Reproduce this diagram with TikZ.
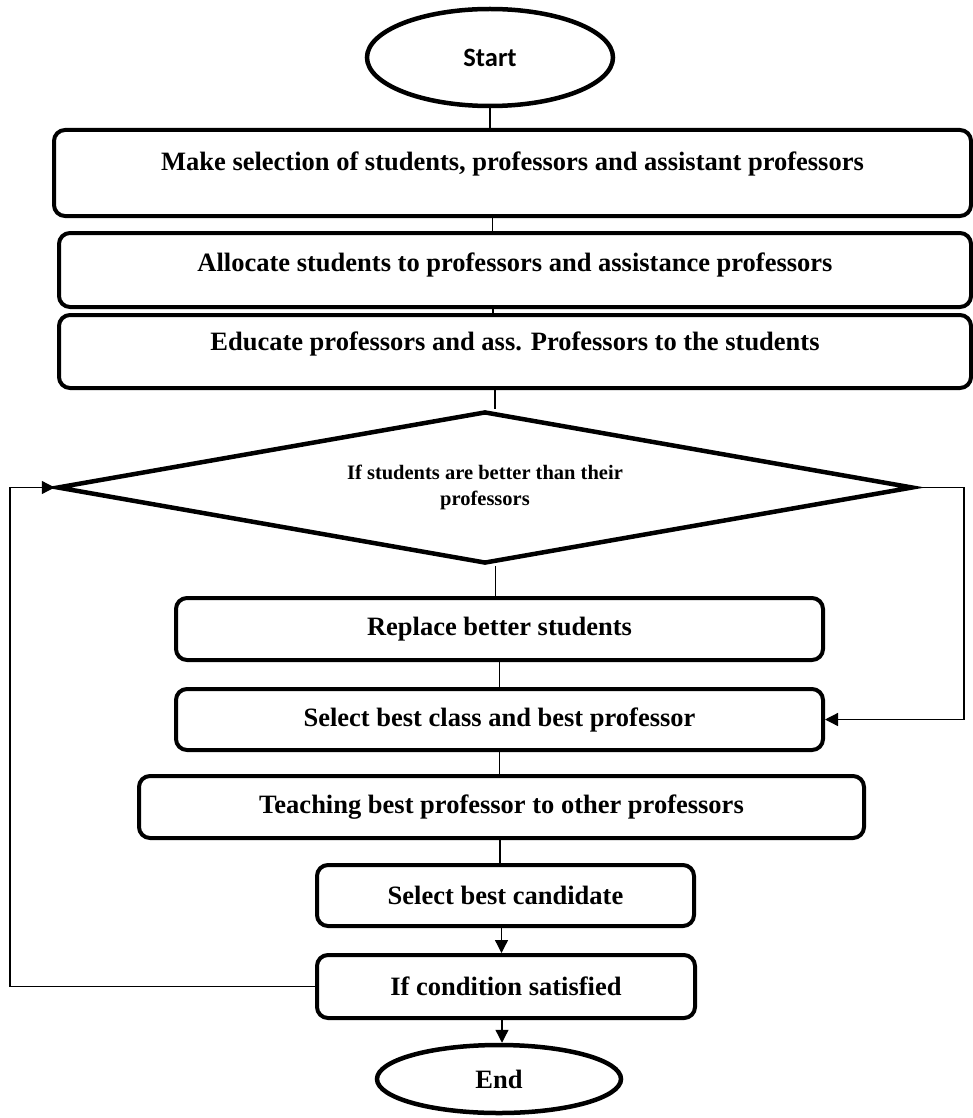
\documentclass[tikz,border=0pt]{standalone}
\usepackage{fontspec}
\setmainfont{Liberation Serif}
\newfontfamily\calibfont{Carlito}
\usetikzlibrary{shapes.geometric,arrows.meta}
\begin{document}
\begin{tikzpicture}[x=1pt,y=-1pt,
  stepbox/.style={draw, line width=4pt, rounded corners=11pt, inner sep=0pt},
  txt/.style={font=\fontsize{26.5}{30}\selectfont\bfseries},
  ltxt/.style={font=\fontsize{26.5}{30}\selectfont\bfseries, inner sep=0pt},
  conn/.style={line width=1.3pt},
  arr/.style={line width=1.3pt, -{Triangle[length=13pt,width=13pt]}},
  term/.style={draw, ellipse, line width=4.5pt, inner sep=0pt}]
\useasboundingbox (0,0) rectangle (973,1118);

\node[term, minimum width=246pt, minimum height=97pt,
      font={\fontsize{26.5}{30}\calibfont\bfseries}] (start) at (490,57.5) {Start};

\node[stepbox, minimum width=917pt, minimum height=86pt,
      label={[ltxt, yshift=9pt]center:Make selection of students, professors and assistant professors}] (b1) at (512.5,173) {};
\node[stepbox, minimum width=912pt, minimum height=74pt,
      label={[ltxt, yshift=5pt]center:Allocate students to professors and assistance professors}] (b2) at (515,270) {};
\node[stepbox, minimum width=912pt, minimum height=73pt,
      label={[ltxt, yshift=8pt]center:Educate professors and ass. Professors to the students}] (b3) at (515,351.5) {};

\node[draw, diamond, aspect=5.6, line width=4.5pt, minimum width=856pt, minimum height=152pt,
      inner sep=0pt, align=center, font=\fontsize{20.5}{26}\selectfont\bfseries] (dia) at (485,487.5)
      {If students are better than their\\professors};

\node[stepbox, txt, minimum width=647pt, minimum height=62pt] (b4) at (499.5,629) {Replace better students};
\node[stepbox, txt, minimum width=647pt, minimum height=61pt] (b5) at (499.5,719.5) {Select best class and best professor};
\node[stepbox, txt, minimum width=725pt, minimum height=62pt] (b6) at (501.5,807) {Teaching best professor to other professors};
\node[stepbox, txt, minimum width=377pt, minimum height=61pt] (b7) at (505.5,895.5) {Select best candidate};
\node[stepbox, txt, minimum width=378pt, minimum height=63pt] (b8) at (506,986.5) {If condition satisfied};

\node[term, txt, minimum width=244pt, minimum height=68pt] (end) at (499,1079) {End};

% straight connectors
\draw[conn] (start.south) -- (start.south |- b1.north);
\draw[conn] ([xshift=-20pt]b1.south) -- ([xshift=-20pt]b1.south |- b2.north);
\draw[conn] ([xshift=-22pt]b2.south) -- ([xshift=-22pt]b2.south |- b3.north);
\draw[conn] ([xshift=-20pt]b3.south) -- ([xshift=-20pt]b3.south |- dia.north);
\draw[conn] ([xshift=-4pt]b4.north |- dia.south) -- ([xshift=-4pt]b4.north);
\draw[conn] (b4.south) -- (b4.south |- b5.north);
\draw[conn] (b5.south) -- (b5.south |- b6.north);
\draw[conn] ([xshift=-1.5pt]b6.south) -- ([xshift=-1.5pt]b6.south |- b7.north);
\draw[arr] ([xshift=-4pt]b7.south) -- ([xshift=-4pt]b7.south |- b8.north);
\draw[arr] ([xshift=-4pt]b8.south) -- ([xshift=-4pt]b8.south |- end.north);

% loops
\coordinate (rt) at (964,487.5);
\coordinate (lt) at (10,986.5);
\draw[arr] (dia.east) -- (rt) |- (b5.east);
\draw[arr] (b8.west) -- (lt) |- (dia.west);
\end{tikzpicture}
\end{document}
